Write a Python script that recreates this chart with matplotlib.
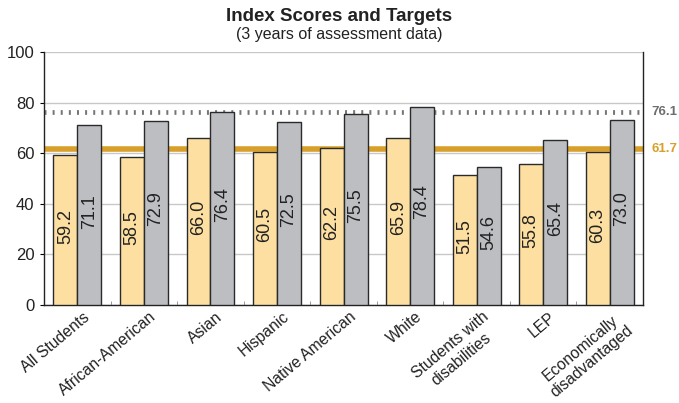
import matplotlib
matplotlib.use("Agg")
import matplotlib.pyplot as plt
import numpy as np

plt.rcParams['font.family'] = ['Liberation Sans', 'DejaVu Sans']

categories = ["All Students", "African-American", "Asian", "Hispanic", "Native American",
              "White", "Students with\ndisabilities", "LEP", "Economically\ndisadvantaged"]
index_scores = [59.2, 58.5, 66.0, 60.5, 62.2, 65.9, 51.5, 55.8, 60.3]
targets = [71.1, 72.9, 76.4, 72.5, 75.5, 78.4, 54.6, 65.4, 73.0]
target_line = 76.1
index_line = 61.7
yticks = [0, 20, 40, 60, 80, 100]

fig = plt.figure(figsize=(6.79, 4.03), dpi=100)
ax = fig.add_axes([0.065, 0.243, 0.882, 0.628])

x = np.arange(len(categories))
w = 0.36
yellow = "#FDE0A1"
grey = "#BDBEC2"
ax.bar(x - w/2, index_scores, width=w, color=yellow, edgecolor="#2a2a2a", linewidth=1.0, zorder=3)
ax.bar(x + w/2, targets, width=w, color=grey, edgecolor="#2a2a2a", linewidth=1.0, zorder=3)

for xi, v in zip(x - w/2, index_scores):
    ax.text(xi, v/2 + 1.5, f"{v:.1f}", rotation=90, ha="center", va="center", fontsize=13, color="#222222", zorder=4)
for xi, v in zip(x + w/2, targets):
    ax.text(xi, v/2 + 1.5, f"{v:.1f}", rotation=90, ha="center", va="center", fontsize=13, color="#222222", zorder=4)

ax.axhline(index_line, color="#D8A02B", linewidth=4.0, zorder=2, solid_capstyle="butt")
ax.axhline(target_line, color="#757575", linewidth=3.4, linestyle=(0, (0.42, 1.3)),
           dash_capstyle="butt", zorder=2)

ax.text(1.014, target_line, f"{target_line:.1f}", transform=ax.get_yaxis_transform(),
        ha="left", va="center", fontsize=9.5, fontweight="bold", color="#6e6e6e")
ax.text(1.014, index_line, f"{index_line:.1f}", transform=ax.get_yaxis_transform(),
        ha="left", va="center", fontsize=9.5, fontweight="bold", color="#D8A02B")

ax.set_xlim(-0.5, len(categories) - 0.5)
ax.set_ylim(0, 100)
ax.set_yticks(yticks)
ax.set_yticklabels([str(t) for t in yticks], fontsize=12, color="#222222")
ax.yaxis.grid(True, color="#c8c8c8", linewidth=1.0, zorder=0)
ax.set_axisbelow(True)
ax.tick_params(axis="y", length=3, direction="out", pad=4)

ax.set_xticks(x + 0.08)
ax.set_xticklabels(categories, rotation=40, ha="right", rotation_mode="anchor",
                   fontsize=11.3, color="#222222", multialignment="center")
ax.tick_params(axis="x", length=0, pad=3)
ax.set_xticks(np.arange(len(categories) + 1) - 0.5, minor=True)
ax.tick_params(axis="x", which="minor", length=3, direction="in", color="#888888")

for s in ["left", "right", "bottom"]:
    ax.spines[s].set_color("#222222")
    ax.spines[s].set_linewidth(1.0)
ax.spines["top"].set_visible(False)

fig.text(0.5, 0.958, "Index Scores and Targets", ha="center", va="center",
         fontsize=13.5, fontweight="bold", color="#222222")
fig.text(0.5, 0.915, "(3 years of assessment data)", ha="center", va="center",
         fontsize=11.5, color="#222222")

fig.savefig("out.png", dpi=100)
